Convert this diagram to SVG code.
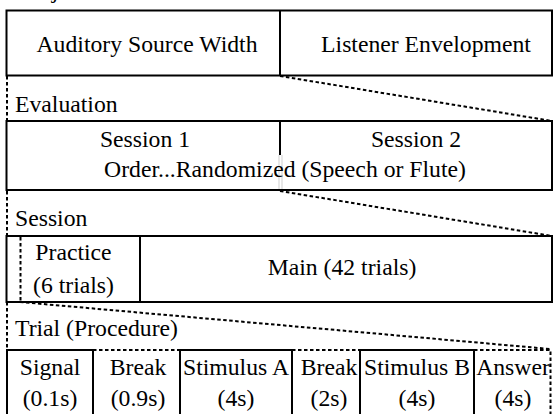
<svg xmlns="http://www.w3.org/2000/svg" width="554" height="414" viewBox="0 0 554 414" font-family="'Liberation Serif', 'Times New Roman', Times, serif">
<style>
text{font-family:'Liberation Serif','Times New Roman',Times,serif;font-size:23.7px;fill:#000}
.m{text-anchor:middle}
.box{fill:none;stroke:#000;stroke-width:2}
.dot{fill:none;stroke:#000;stroke-width:2;stroke-dasharray:3.5 2.5}
.ghost{fill:none;stroke:#cfcfcf;stroke-width:1}
</style>
<rect width="554" height="414" fill="#fff"/>
<text x="15" y="-2">Subjective</text>

<g id="attributes">
<rect class="box" x="6.5" y="10.5" width="545.5" height="65"/>
<line class="box" x1="280" y1="10.5" x2="280" y2="75.5"/>
<text class="m" x="147" y="52">Auditory Source Width</text>
<text class="m" x="426" y="52">Listener Envelopment</text>
</g>

<g id="evaluation">
<text x="15" y="111.5">Evaluation</text>
<rect class="box" x="6.5" y="121" width="545.5" height="69"/>
<line class="box" x1="280" y1="121" x2="280" y2="155"/>
<line class="ghost" x1="279" y1="155" x2="279" y2="189"/>
<line class="ghost" x1="282" y1="155" x2="282" y2="189"/>
<text class="m" x="145" y="147">Session 1</text>
<text class="m" x="416" y="147">Session 2</text>
<text class="m" x="285" y="177">Order...Randomized (Speech or Flute)</text>
</g>

<g id="session">
<text x="15" y="226">Session</text>
<rect class="box" x="6.5" y="236" width="545.5" height="66"/>
<line class="box" x1="140" y1="236" x2="140" y2="302"/>
<line class="dot" x1="20.5" y1="237" x2="20.5" y2="301"/>
<text class="m" x="73.5" y="260">Practice</text>
<text class="m" x="73.5" y="293">(6 trials)</text>
<text class="m" x="342" y="275">Main (42 trials)</text>
</g>

<g id="trial">
<text x="15" y="336">Trial (Procedure)</text>
<g id="signal">
<path class="box" d="M7,416 V350 H93 V416"/>
<text class="m" x="50" y="375">Signal</text>
<text class="m" x="50" y="406">(0.1s)</text>
</g>
<g id="break1">
<line class="dot" x1="93" y1="350" x2="180" y2="350"/>
<text class="m" x="138" y="375">Break</text>
<text class="m" x="138" y="406">(0.9s)</text>
</g>
<g id="stimulusA">
<path class="box" d="M180,416 V350 H292 V416"/>
<text class="m" x="236" y="375">Stimulus A</text>
<text class="m" x="236" y="406">(4s)</text>
</g>
<g id="break2">
<line class="dot" x1="292" y1="350" x2="360" y2="350"/>
<text class="m" x="329" y="375">Break</text>
<text class="m" x="329" y="406">(2s)</text>
</g>
<g id="stimulusB">
<path class="box" d="M360,416 V350 H474 V416"/>
<text class="m" x="417" y="375">Stimulus B</text>
<text class="m" x="417" y="406">(4s)</text>
</g>
<g id="answer">
<path class="dot" d="M474,350 H550.5 V416"/>
<text class="m" x="513" y="375">Answer</text>
<text class="m" x="513" y="406">(4s)</text>
</g>
</g>

<g id="connectors">
<line class="dot" x1="7" y1="76" x2="7" y2="121"/>
<line class="dot" x1="280" y1="76" x2="552" y2="121"/>
<line class="dot" x1="7" y1="191" x2="7" y2="236"/>
<line class="dot" x1="280" y1="191" x2="552" y2="236"/>
<line class="dot" x1="7" y1="302" x2="7" y2="350"/>
<line class="dot" x1="20" y1="302" x2="550" y2="349"/>
</g>
</svg>
